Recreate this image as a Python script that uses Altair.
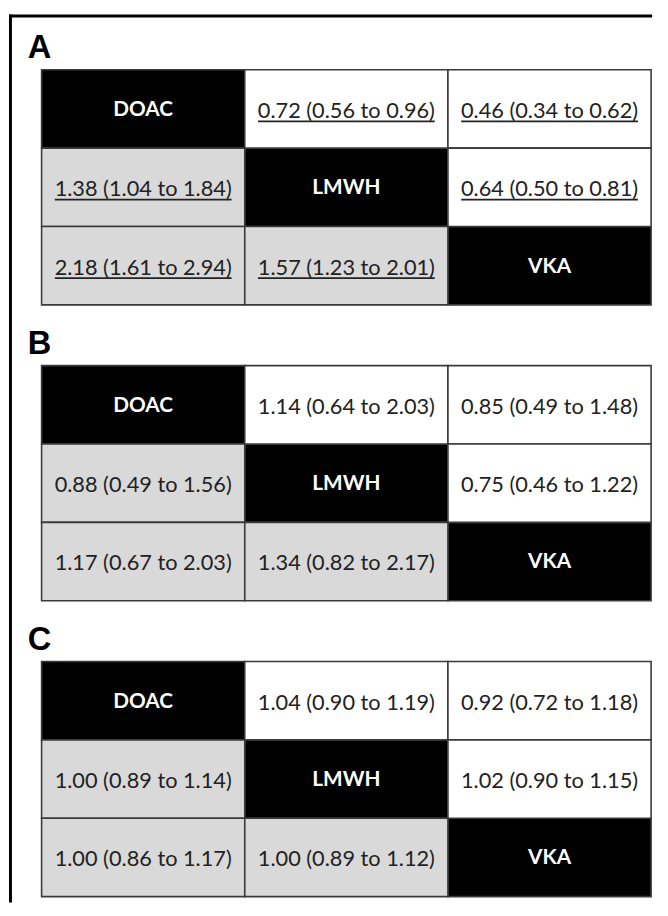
import altair as alt
import pandas as pd

# ---- data ----
panels = ["A", "B", "C"]
treatments = ["DOAC", "LMWH", "VKA"]
# off-diagonal cells in order (row, col): (0,1),(0,2),(1,0),(1,2),(2,0),(2,1)
cell_order = [(0, 1), (0, 2), (1, 0), (1, 2), (2, 0), (2, 1)]
est_A = [0.72, 0.46, 1.38, 0.64, 2.18, 1.57]
lo_A = [0.56, 0.34, 1.04, 0.50, 1.61, 1.23]
hi_A = [0.96, 0.62, 1.84, 0.81, 2.94, 2.01]
est_B = [1.14, 0.85, 0.88, 0.75, 1.17, 1.34]
lo_B = [0.64, 0.49, 0.49, 0.46, 0.67, 0.82]
hi_B = [2.03, 1.48, 1.56, 1.22, 2.03, 2.17]
est_C = [1.04, 0.92, 1.00, 1.02, 1.00, 1.00]
lo_C = [0.90, 0.72, 0.89, 0.90, 0.86, 0.89]
hi_C = [1.19, 1.18, 1.14, 1.15, 1.17, 1.12]
underlined_panels = ["A"]

PITCH = 3.775  # panel pitch in row units (layout)

rows = []
series = {"A": (est_A, lo_A, hi_A), "B": (est_B, lo_B, hi_B), "C": (est_C, lo_C, hi_C)}
for p_i, p in enumerate(panels):
    e, l, h = series[p]
    for k in range(3):
        rows.append(dict(panel=p, pi=p_i, r=k, c=k, kind="diag",
                         label=treatments[k], ul=False))
    for (r, c), ev, lv, hv in zip(cell_order, e, l, h):
        rows.append(dict(panel=p, pi=p_i, r=r, c=c,
                         kind="upper" if c > r else "lower",
                         label=f"{ev:.2f} ({lv:.2f} to {hv:.2f})",
                         ul=p in underlined_panels))
df = pd.DataFrame(rows)
df["y0"] = df["pi"] * PITCH + df["r"]
df["y1"] = df["y0"] + 1
df["ym"] = df["y0"] + 0.5
df["x0"] = df["c"]
df["x1"] = df["c"] + 1
df["xm"] = df["c"] + 0.5

W, H = 660, 900
xs = alt.Scale(domain=[0, 3], range=[34, 651])
ys = alt.Scale(domain=[0, 2 * PITCH + 3], range=[57, 894])

base = alt.Chart(df)

cells = base.mark_rect(stroke="#3a3a3a", strokeWidth=1.6).encode(
    x=alt.X("x0:Q", scale=xs, axis=None),
    x2="x1:Q",
    y=alt.Y("y0:Q", scale=ys, axis=None),
    y2="y1:Q",
    color=alt.Color("kind:N", scale=alt.Scale(domain=["diag", "upper", "lower"],
                                              range=["#000000", "#ffffff", "#d9d9d9"]),
                    legend=None),
)

diag_text = base.transform_filter("datum.kind == 'diag'").mark_text(
    font="Lato", fontSize=21, fontWeight="bold", color="#ffffff",
    baseline="alphabetic", dy=7,
).encode(x=alt.X("xm:Q", scale=xs), y=alt.Y("ym:Q", scale=ys), text="label:N")

val_text = base.transform_filter("datum.kind != 'diag'").mark_text(
    font="Lato", fontSize=22, color="#222222", baseline="alphabetic", dy=9,
).encode(x=alt.X("xm:Q", scale=xs), y=alt.Y("ym:Q", scale=ys), text="label:N")

HALF_UL = 0.435
underline = base.transform_filter("datum.ul").transform_calculate(
    ux0=f"datum.xm - {HALF_UL}", ux1=f"datum.xm + {HALF_UL}"
).mark_rule(color="#222222", strokeWidth=1.8, yOffset=12.5, y2Offset=12.5).encode(
    x=alt.X("ux0:Q", scale=xs), x2="ux1:Q",
    y=alt.Y("ym:Q", scale=ys), y2="ym:Q",
)

lab_df = pd.DataFrame({"panel": panels, "pi": [0, 1, 2]})
lab_df["yt"] = lab_df["pi"] * PITCH
labels = alt.Chart(lab_df).mark_text(
    font="Liberation Sans", fontSize=33, fontWeight="bold", color="#000000",
    align="left", baseline="alphabetic", dy=-12, dx=-14,
).encode(x=alt.X("x:Q", scale=xs), y=alt.Y("yt:Q", scale=ys), text="panel:N").transform_calculate(x="0")

one = pd.DataFrame({"a": [0]})
frame_top = alt.Chart(one).mark_rule(color="#000000", strokeWidth=3).encode(
    x=alt.value(1), x2=alt.value(652), y=alt.value(2.5))
frame_left = alt.Chart(one).mark_rule(color="#000000", strokeWidth=3).encode(
    x=alt.value(2.5), y=alt.value(1), y2=alt.value(H))

chart = alt.layer(cells, diag_text, val_text, underline, labels, frame_top, frame_left).properties(
    width=W, height=H, padding=0, autosize=alt.AutoSizeParams(type="none")
).configure_view(stroke=None)

chart.save("out.html", embed_options={"renderer": "svg", "actions": False})
